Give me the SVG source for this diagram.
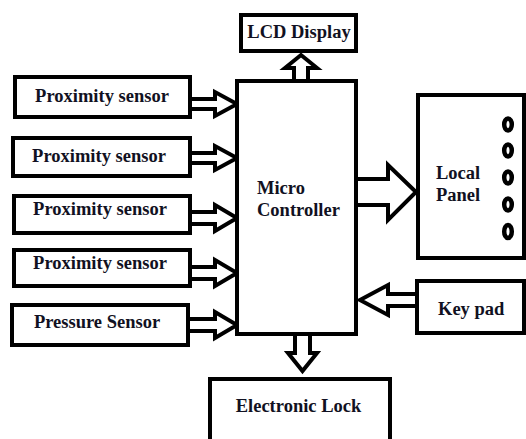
<svg xmlns="http://www.w3.org/2000/svg" width="526" height="439" viewBox="0 0 526 439">
  <defs>
    <style>
      .box { fill: #ffffff; stroke: #000000; stroke-width: 4; }
      .arrow { fill: #ffffff; stroke: #000000; stroke-width: 4; stroke-linejoin: miter; }
      .lbl { font-family: "Liberation Serif", "Times New Roman", serif; font-weight: bold; font-size: 18.5px; fill: #111122; }
      .mid { text-anchor: middle; }
      .led { fill: none; stroke: #000000; stroke-width: 4.5; }
    </style>
  </defs>
  <rect width="526" height="439" fill="#ffffff"/>

  <!-- connectors: hollow block arrows -->
  <g id="connectors">
    <path class="arrow" d="M190,99 H215 V92 L237,104 L215,116 V109 H190"/>
    <path class="arrow" d="M190,153 H215 V146 L237,158 L215,170 V163 H190"/>
    <path class="arrow" d="M190,212 H215 V205 L237,218 L215,231 V224 H190"/>
    <path class="arrow" d="M190,267 H215 V260 L237,273 L215,286 V279 H190"/>
    <path class="arrow" d="M188,319 H215 V312 L237,325 L215,338 V331 H188"/>
    <path class="arrow" d="M294,81 V68 H285 L301,55 L317,68 H308 V81"/>
    <path class="arrow" d="M295,334 V353 H288 L302.5,371 L317,353 H310 V334"/>
    <path class="arrow" d="M356,179 H388 V165 L416,192 L388,220 V205 H356"/>
    <path class="arrow" d="M417,294 H388 V285 L360,300 L388,315 V306 H417"/>
  </g>

  <g id="sensor1">
    <rect class="box" x="15" y="77" width="175" height="40"/>
    <text class="lbl mid" x="102" y="102">Proximity sensor</text>
  </g>
  <g id="sensor2">
    <rect class="box" x="13" y="138" width="177" height="38"/>
    <text class="lbl mid" x="99" y="162">Proximity sensor</text>
  </g>
  <g id="sensor3">
    <rect class="box" x="14" y="196" width="176" height="37"/>
    <text class="lbl mid" x="100" y="215">Proximity sensor</text>
  </g>
  <g id="sensor4">
    <rect class="box" x="14" y="250" width="176" height="36"/>
    <text class="lbl mid" x="100" y="269">Proximity sensor</text>
  </g>
  <g id="pressure">
    <rect class="box" x="12" y="305" width="176" height="40"/>
    <text class="lbl mid" x="97" y="328">Pressure Sensor</text>
  </g>

  <g id="controller">
    <rect class="box" x="237" y="81" width="119" height="253"/>
    <text class="lbl" x="257" y="194">Micro</text>
    <text class="lbl" x="257" y="216">Controller</text>
  </g>

  <g id="lcd">
    <rect class="box" x="241" y="15" width="115" height="36"/>
    <text class="lbl mid" x="299" y="38">LCD Display</text>
  </g>

  <g id="panel">
    <rect class="box" x="418" y="95" width="106" height="163"/>
    <text class="lbl" x="436" y="179">Local</text>
    <text class="lbl" x="436" y="201">Panel</text>
    <ellipse class="led" cx="508" cy="124.5" rx="3.8" ry="6"/>
    <ellipse class="led" cx="508" cy="150.5" rx="3.8" ry="6"/>
    <ellipse class="led" cx="508" cy="177.5" rx="3.8" ry="6"/>
    <ellipse class="led" cx="508" cy="204.5" rx="3.8" ry="6"/>
    <ellipse class="led" cx="508" cy="231.5" rx="3.8" ry="6.5"/>
  </g>

  <g id="keypad">
    <rect class="box" x="417" y="281" width="107" height="52"/>
    <text class="lbl" x="438" y="315">Key pad</text>
  </g>

  <g id="lock">
    <rect class="box" x="210" y="379" width="180" height="80"/>
    <text class="lbl mid" x="298.5" y="412">Electronic Lock</text>
  </g>
</svg>
